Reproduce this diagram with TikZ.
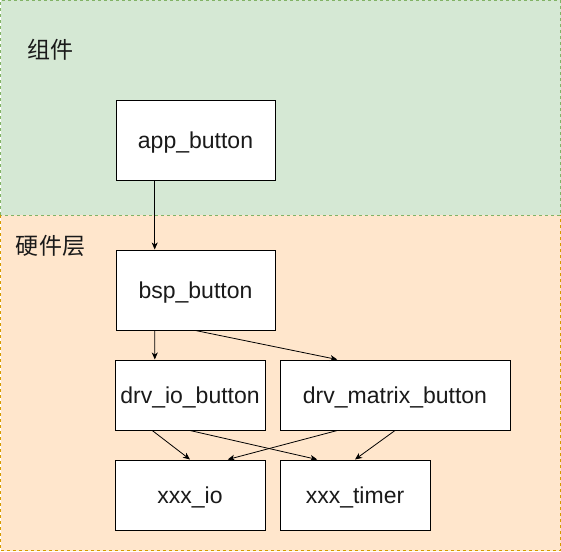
\documentclass[tikz,border=0pt]{standalone}
\usepackage{fontspec}
\setmainfont{Liberation Sans}
\newfontfamily\cjk{Noto Sans CJK SC}
\usetikzlibrary{arrows.meta,calc}
\definecolor{grnfill}{HTML}{D5E8D4}
\definecolor{grnline}{HTML}{82B366}
\definecolor{orgfill}{HTML}{FFE6CC}
\definecolor{orgline}{HTML}{D79B00}
\definecolor{txt}{HTML}{1A1A1A}
\tikzset{
  box/.style={draw=black, line width=1pt, fill=white, rectangle, inner sep=0pt,
    font=\fontsize{23}{27}\selectfont, text=txt, text height=20pt, text depth=4pt},
  layerlbl/.style={font=\cjk\fontsize{23}{27}\selectfont, text=txt, inner sep=0pt},
  conn/.style={draw=black, line width=0.8pt, -{Stealth[length=7pt,width=6pt,inset=2pt]}},
}
\begin{document}
\begin{tikzpicture}[x=1pt,y=-1pt]
\useasboundingbox (0,0) rectangle (561,551);
\fill[grnfill] (0.5,0.5) rectangle (560.5,215);
\fill[orgfill] (0.5,215) rectangle (560.5,550.5);
\draw[grnline, dashed, line width=0.7pt, dash pattern=on 3pt off 3pt] (0.5,215) -- (0.5,0.5) -- (560.5,0.5) -- (560.5,215) -- cycle;
\draw[orgline, dashed, line width=0.7pt, dash pattern=on 3pt off 3pt] (0.5,215) -- (0.5,550.5) -- (560.5,550.5) -- (560.5,215);
\node[layerlbl] (lcomp) at (50.5,50) {组件};
\node[layerlbl] (lhw) at (50.5,246) {硬件层};
\node[box, minimum width=159pt, minimum height=80pt] (app) at (195.5,140) {app\_button};
\node[box, minimum width=159pt, minimum height=80pt] (bsp) at (195.5,290) {bsp\_button};
\node[box, minimum width=150pt, minimum height=70pt] (drvio) at (190,395) {drv\_io\_button};
\node[box, minimum width=230pt, minimum height=70pt] (drvmx) at (395,395) {drv\_matrix\_button};
\node[box, minimum width=150pt, minimum height=70pt] (xio) at (190,495) {xxx\_io};
\node[box, minimum width=150pt, minimum height=70pt] (xtm) at (355,495) {xxx\_timer};
\draw[conn] ($(app.south west)!0.245!(app.south east)$) -- ($(bsp.north west)!0.245!(bsp.north east)$);
\draw[conn] ($(bsp.south west)!0.245!(bsp.south east)$) -- ($(drvio.north west)!0.267!(drvio.north east)$);
\draw[conn] (bsp.south) -- ($(drvmx.north west)!0.25!(drvmx.north east)$);
\draw[conn] ($(drvio.south west)!0.25!(drvio.south east)$) -- (xio.north);
\draw[conn] (drvio.south) -- ($(xtm.north west)!0.25!(xtm.north east)$);
\draw[conn] ($(drvmx.south west)!0.25!(drvmx.south east)$) -- ($(xio.north west)!0.75!(xio.north east)$);
\draw[conn] (drvmx.south) -- (xtm.north);
\end{tikzpicture}
\end{document}
